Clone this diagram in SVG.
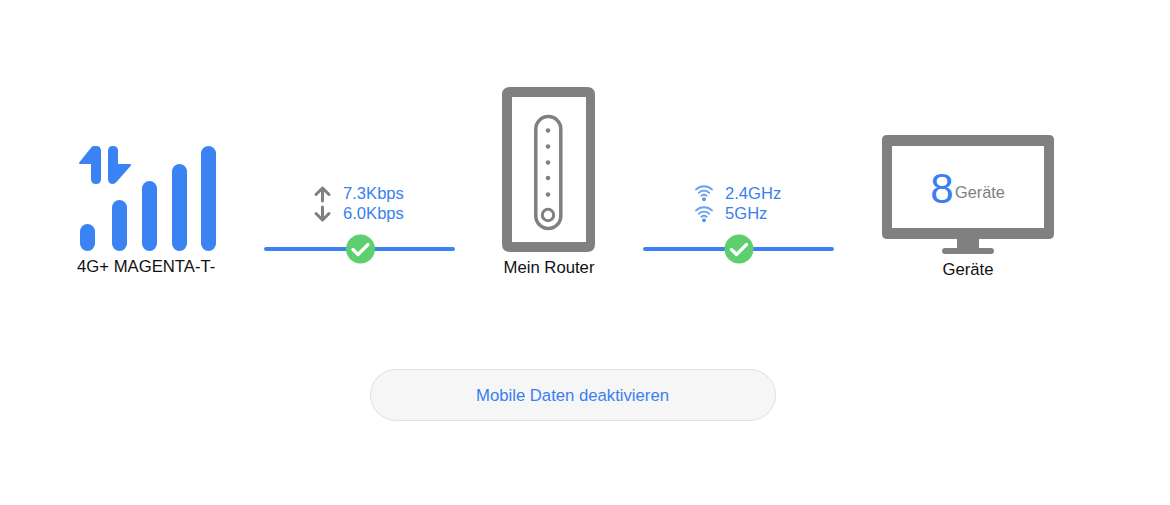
<svg xmlns="http://www.w3.org/2000/svg" width="1170" height="505" viewBox="0 0 1170 505">
<defs>
<style>
text{font-family:"Liberation Sans",Arial,sans-serif}
.lbl{font-size:16.700px;fill:#111}
.blue{font-size:16.600px;fill:#3a7ff0}
.b{fill:#3b82f3}
.ba{fill:#3b82f3;stroke:#3b82f3;stroke-width:2;stroke-linejoin:round}
.g{fill:#808080}
.gs{fill:none;stroke:#808080}
.line{stroke:#3b82f3;stroke-width:4;stroke-linecap:round}
.chk{fill:none;stroke:#fff;stroke-width:3.200;stroke-linecap:round;stroke-linejoin:round}
.wf{fill:none;stroke:#6ba1f5;stroke-width:1.800;stroke-linecap:round}
.ar{fill:none;stroke:#808080;stroke-width:3;stroke-linecap:round;stroke-linejoin:round}
</style>
<g id="wifi"><path class="wf" d="M-8 -3.500A11.500 11.500 0 0 1 8 -3.500"/><path class="wf" d="M-5.300 -0.200A7.600 7.600 0 0 1 5.300 -0.200"/><path class="wf" d="M-2.700 2.900A3.800 3.800 0 0 1 2.700 2.900"/><circle cx="0" cy="6.300" r="2" fill="#5b97f4"/></g>
<g id="ok"><circle r="14.500" fill="#5ecf6e"/><path class="chk" d="M-7.500 0.500L-2.500 5.500L7.500 -4.500"/></g>
</defs>
<g id="signal">
<rect class="b" x="80" y="224" width="15" height="27" rx="7.500"/>
<rect class="b" x="112" y="200" width="15" height="51" rx="7.500"/>
<rect class="b" x="142" y="181" width="15" height="70" rx="7.500"/>
<rect class="b" x="172" y="164" width="15" height="87" rx="7.500"/>
<rect class="b" x="201" y="146" width="15" height="105" rx="7.500"/>
<path class="ba" d="M94 147H96Q100 147 100 151V179Q100 183 96 183Q92 183 92 179V163H80L92 148Q93 147 94 147Z"/>
<path class="ba" d="M113 147Q117 147 117 151V165H130L116 181Q114 183 113 183Q109 183 109 179V151Q109 147 113 147Z"/>
<text class="lbl" x="77" y="272">4G+ MAGENTA-T-</text>
</g>
<g id="router">
<path class="g" fill-rule="evenodd" d="M510 87H587Q595 87 595 95V244Q595 252 587 252H510Q502 252 502 244V95Q502 87 510 87ZM512 97V242H586V97Z"/>
<rect class="gs" x="535.800" y="116.500" width="25" height="112" rx="12.500" stroke-width="3.500"/>
<circle class="g" cx="548" cy="130.500" r="2.300"/>
<circle class="g" cx="548" cy="146.500" r="2.300"/>
<circle class="g" cx="548" cy="162.500" r="2.300"/>
<circle class="g" cx="548" cy="178" r="2.300"/>
<circle class="g" cx="548" cy="194.500" r="2.300"/>
<circle class="gs" cx="548" cy="215" r="5.700" stroke-width="3"/>
<text class="lbl" x="549" y="273" text-anchor="middle">Mein Router</text>
</g>
<g id="devices">
<path class="g" fill-rule="evenodd" d="M887 135H1049Q1054 135 1054 140V234Q1054 239 1049 239H887Q882 239 882 234V140Q882 135 887 135ZM892 146V228H1044V146Z"/>
<rect class="g" x="957" y="238" width="22" height="10"/>
<rect class="g" x="942" y="248" width="52" height="6" rx="3"/>
<text x="942" y="203" font-size="42" fill="#3a7ff0" text-anchor="middle">8</text>
<text x="955" y="198" font-size="16.300" fill="#808080">Geräte</text>
<text class="lbl" x="968" y="275" text-anchor="middle">Geräte</text>
</g>
<g id="connectors">
<line class="line" x1="266" y1="249" x2="453" y2="249"/>
<line class="line" x1="645" y1="249" x2="832" y2="249"/>
</g>
<g id="link-status">
<use href="#ok" x="360.500" y="249"/>
<path class="ar" d="M322.500 201V188M316 194.500L322.500 188L329 194.500"/>
<path class="ar" d="M322.500 207V220M316 213.500L322.500 220L329 213.500"/>
<text class="blue" x="343" y="199">7.3Kbps</text>
<text class="blue" x="343" y="219">6.0Kbps</text>
</g>
<g id="wifi-status">
<use href="#ok" x="739" y="249"/>
<use href="#wifi" x="704" y="193"/>
<use href="#wifi" x="704" y="214"/>
<text class="blue" x="725" y="199">2.4GHz</text>
<text class="blue" x="725" y="219">5GHz</text>
</g>
<g id="button">
<rect x="370.500" y="369.500" width="405" height="51" rx="25.500" fill="#f6f6f6" stroke="#e0e0e0"/>
<text x="572.500" y="401" font-size="16.700" fill="#3a7ff0" text-anchor="middle">Mobile Daten deaktivieren</text>
</g>
</svg>
